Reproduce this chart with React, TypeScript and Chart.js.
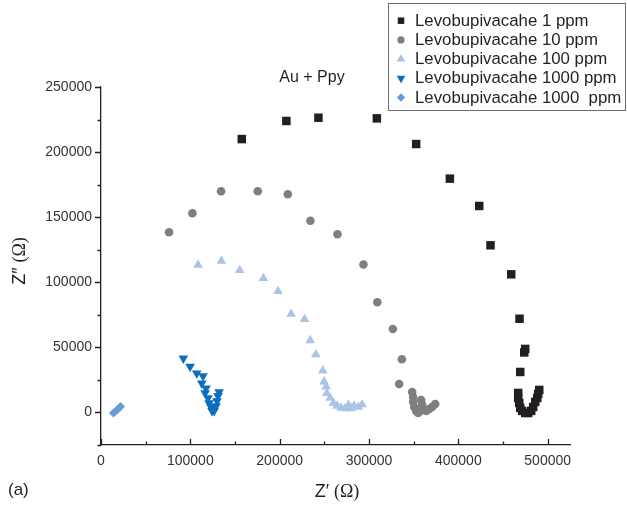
import React, { useEffect, useRef } from 'react';
import { Chart, registerables } from 'chart.js';
import { drawPoint } from 'chart.js/helpers';

Chart.register(...registerables);

// ---- axis ticks ----
const xTickValues = [0, 100000, 200000, 300000, 400000, 500000];
const xMinorTicks = [50000, 150000, 250000, 350000, 450000];
const yTickValues = [0, 50000, 100000, 150000, 200000, 250000];
const yMinorTicks = [-25000, 25000, 75000, 125000, 175000, 225000];

// ---- legend / series names ----
const seriesNames = [
  'Levobupivacahe 1 ppm',
  'Levobupivacahe 10 ppm',
  'Levobupivacahe 100 ppm',
  'Levobupivacahe 1000 ppm',
  'Levobupivacahe 1000  ppm',
];

// ---- series 1: 1 ppm (Z', Z'') ----
const s1Re = [157600, 207500, 243400, 308800, 352800, 390500, 423400, 436000, 459200, 468500, 473800, 474900, 469300,
  467000, 467000, 468200, 469300, 471500, 474900, 478200, 481600, 483800, 486100, 488300, 489400, 490600];
const s1Im = [210000, 223900, 226400, 225900, 206200, 179600, 158600, 128400, 106100, 72000, 46100, 48800, 31100,
  15000, 11100, 7300, 3500, 1200, -400, -400, 1200, 4200, 8100, 11100, 14200, 17300];

// ---- series 2: 10 ppm ----
const s2Re = [76200, 102300, 134400, 175500, 209100, 234400, 264700, 293800, 309300, 326700, 336800, 333800,
  348300, 349400, 349400, 350600, 352800, 355000, 358400, 359500, 360600, 364000, 367400, 370700, 374100];
const s2Im = [138400, 153000, 169900, 169900, 167600, 147300, 136900, 113700, 84600, 64100, 40900, 21900,
  15700, 11900, 8100, 4200, 1200, -400, 9600, 5800, 1900, 1200, 2700, 4200, 6500];

// ---- series 3: 100 ppm ----
const s3Re = [108600, 134700, 155300, 181800, 198200, 212800, 227900, 234100, 240500, 248300, 249800, 252000,
  252800, 256500, 260200, 264300, 268800, 273300, 277000, 280000, 283400, 288200, 292300];
const s3Im = [113300, 116400, 109200, 103100, 93100, 75600, 71600, 55300, 44500, 32100, 23700, 19800,
  14700, 11100, 7100, 5000, 3500, 3100, 5800, 3100, 5000, 4200, 6100];

// ---- series 4: 1000 ppm ----
const s4Re = [92200, 99700, 107200, 114200, 112800, 117600, 116500, 119800, 121000, 123200, 124300, 126600,
  128800, 129900, 131000, 132200];
const s4Im = [41600, 35200, 30100, 28000, 22400, 18600, 15000, 11100, 7300, 4200, 1200, 1200,
  5000, 8800, 12700, 15700];

// ---- series 5: 1000  ppm ----
const s5Re = [14000, 17900, 21800];
const s5Im = [-400, 1900, 4500];

const seriesRe = [s1Re, s2Re, s3Re, s4Re, s5Re];
const seriesIm = [s1Im, s2Im, s3Im, s4Im, s5Im];
const seriesColors = ['#231f20', '#7f7f82', '#a9c4e7', '#0b6fc0', '#6a9bd8'];
const seriesStyles = ['rect', 'circle', 'triangle', 'triangle', 'rectRot'];
const seriesRotation = [0, 0, 0, 180, 0];
const seriesRadius = [6, 4.3, 5.6, 5.6, 4.6];
const legendRadius = [4.6, 3.6, 5, 5, 4.2];

const SANS = '"Liberation Sans", Arial, Helvetica, sans-serif';
const SERIF = '"Liberation Serif", "Times New Roman", serif';

function drawMixed(ctx: CanvasRenderingContext2D, parts: { t: string; f: string }[], cx: number, cy: number) {
  let total = 0;
  const widths = parts.map((p) => {
    ctx.font = p.f;
    const w = ctx.measureText(p.t).width;
    total += w;
    return w;
  });
  let x = cx - total / 2;
  ctx.textAlign = 'left';
  ctx.textBaseline = 'middle';
  parts.forEach((p, i) => {
    ctx.font = p.f;
    ctx.fillText(p.t, x, cy);
    x += widths[i];
  });
}

const decorPlugin = {
  id: 'decor',
  afterDraw(chart: any) {
    const ctx: CanvasRenderingContext2D = chart.ctx;
    const xs = chart.scales.x;
    const ys = chart.scales.y;
    const area = chart.chartArea;
    ctx.save();
    ctx.strokeStyle = '#231f20';
    ctx.lineWidth = 1.3;
    ctx.beginPath();
    xTickValues.forEach((v) => {
      const px = Math.round(xs.getPixelForValue(v)) + 0.5;
      ctx.moveTo(px, area.bottom);
      ctx.lineTo(px, area.bottom - 6);
    });
    xMinorTicks.forEach((v) => {
      const px = Math.round(xs.getPixelForValue(v)) + 0.5;
      ctx.moveTo(px, area.bottom);
      ctx.lineTo(px, area.bottom - 3.5);
    });
    yTickValues.forEach((v) => {
      const py = Math.round(ys.getPixelForValue(v)) + 0.5;
      ctx.moveTo(area.left, py);
      ctx.lineTo(area.left - 6, py);
    });
    yMinorTicks.forEach((v) => {
      const py = Math.round(ys.getPixelForValue(v)) + 0.5;
      ctx.moveTo(area.left, py);
      ctx.lineTo(area.left - 3.5, py);
    });
    ctx.stroke();

    ctx.fillStyle = '#231f20';
    // chart title
    ctx.font = `16px ${SANS}`;
    ctx.textAlign = 'center';
    ctx.textBaseline = 'middle';
    ctx.fillText('Au + Ppy', 312, 78);

    // x axis title
    drawMixed(ctx, [
      { t: 'Z\u2032 ', f: `18px ${SANS}` },
      { t: '(\u03A9)', f: `18px ${SERIF}` },
    ], 337, 492);

    // y axis title
    ctx.save();
    ctx.translate(20, 261);
    ctx.rotate(-Math.PI / 2);
    drawMixed(ctx, [
      { t: 'Z\u2033 ', f: `18px ${SANS}` },
      { t: '(\u03A9)', f: `18px ${SERIF}` },
    ], 0, 0);
    ctx.restore();

    // panel label
    ctx.font = `17px ${SANS}`;
    ctx.textAlign = 'left';
    ctx.textBaseline = 'middle';
    ctx.fillText('(a)', 8, 490);

    // legend
    const bx = 388.5, by = 3.5, bw = 237, bh = 107;
    ctx.fillStyle = '#ffffff';
    ctx.fillRect(bx, by, bw, bh);
    ctx.strokeStyle = '#6d6e71';
    ctx.lineWidth = 1;
    ctx.strokeRect(bx, by, bw, bh);
    seriesNames.forEach((name, i) => {
      const cy = 20.7 + i * 19.2;
      ctx.fillStyle = seriesColors[i];
      ctx.strokeStyle = seriesColors[i];
      drawPoint(ctx, {
        pointStyle: seriesStyles[i] as any,
        rotation: seriesRotation[i],
        radius: legendRadius[i],
        borderWidth: 0,
      } as any, 401, cy);
      ctx.fillStyle = '#231f20';
      ctx.font = `16.8px ${SANS}`;
      ctx.textAlign = 'left';
      ctx.textBaseline = 'middle';
      ctx.fillText(name, 415, cy + 0.5);
    });
    ctx.restore();
  },
};

export default function App() {
  const ref = useRef<HTMLCanvasElement>(null);
  useEffect(() => {
    if (!ref.current) return;
    const datasets = seriesNames.map((name, i) => ({
      label: name,
      data: seriesRe[i].map((x, j) => ({ x, y: seriesIm[i][j] })),
      showLine: false,
      pointStyle: seriesStyles[i],
      pointRotation: seriesRotation[i],
      pointRadius: seriesRadius[i],
      pointBackgroundColor: seriesColors[i],
      pointBorderColor: seriesColors[i],
      pointBorderWidth: 0,
    }));
    const tickFont = { family: SANS, size: 14 };
    const chart = new Chart(ref.current, {
      type: 'scatter',
      data: { datasets: datasets as any },
      options: {
        responsive: false,
        maintainAspectRatio: false,
        animation: false,
        layout: { padding: { left: 0, top: 87, right: 57, bottom: 0 } },
        plugins: {
          legend: { display: false },
          tooltip: { enabled: false },
          title: { display: false },
        },
        scales: {
          x: {
            type: 'linear',
            min: 0,
            max: 525000,
            afterBuildTicks: (s: any) => {
              s.ticks = xTickValues.map((v) => ({ value: v }));
            },
            afterFit: (s: any) => {
              s.height = 60;
            },
            grid: { display: false, drawTicks: false },
            border: { display: true, color: '#231f20', width: 1.3 },
            ticks: {
              font: tickFont,
              color: '#333333',
              padding: 8,
              maxRotation: 0,
              autoSkip: false,
              callback: (v: any) => String(v),
            },
          },
          y: {
            type: 'linear',
            min: -25000,
            max: 250000,
            afterBuildTicks: (s: any) => {
              s.ticks = yTickValues.map((v) => ({ value: v }));
            },
            afterFit: (s: any) => {
              s.width = 101;
            },
            grid: { display: false, drawTicks: false },
            border: { display: true, color: '#231f20', width: 1.3 },
            ticks: {
              font: tickFont,
              color: '#333333',
              padding: 9,
              autoSkip: false,
              callback: (v: any) => String(v),
            },
          },
        },
      },
      plugins: [decorPlugin],
    });
    return () => chart.destroy();
  }, []);
  return (
    <div style={{ position: 'absolute', left: 0, top: 0, width: 627, height: 505, background: '#fff' }}>
      <canvas ref={ref} width={627} height={505} style={{ display: 'block' }} />
    </div>
  );
}
